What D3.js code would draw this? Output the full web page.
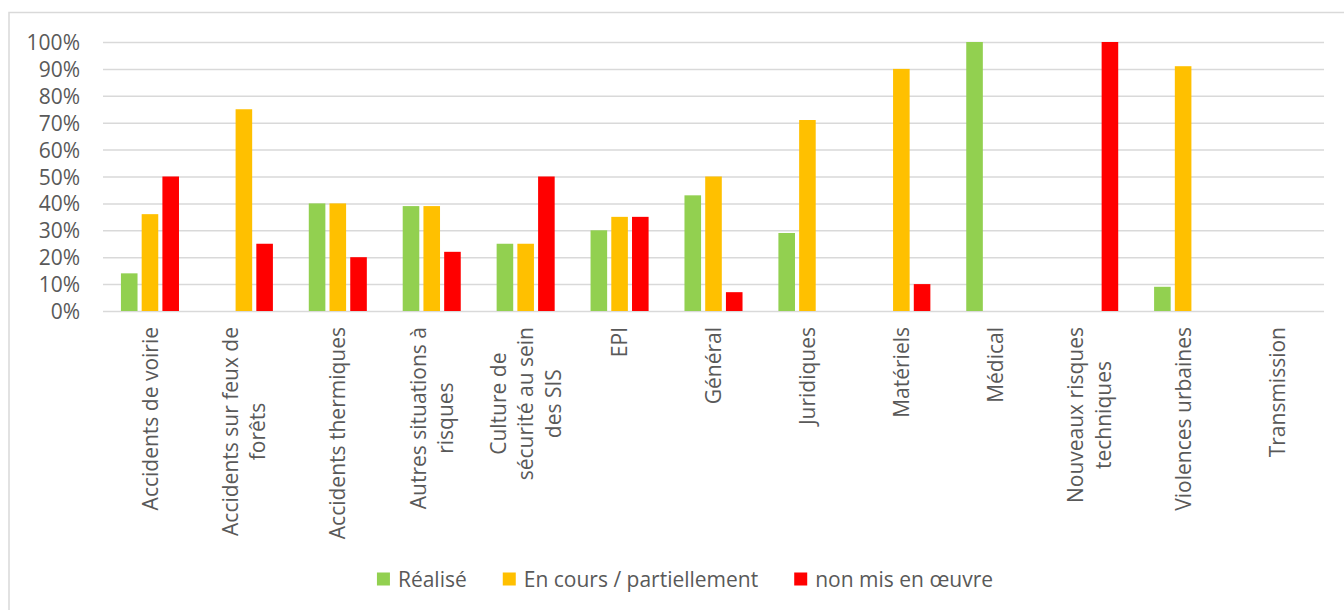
<!DOCTYPE html>
<html>
<head>
<meta charset="utf-8">
<script src="https://cdn.jsdelivr.net/npm/d3@7/dist/d3.min.js"></script>
<style>
  html, body { margin: 0; padding: 0; background: #fff; }
  svg { display: block; }
  text { font-family: "Open Sans", "Noto Sans", sans-serif; fill: #595959; }
</style>
</head>
<body>
<svg id="chart" width="1344" height="610"></svg>
<script>
const categories = [
  ["Accidents de voirie"],
  ["Accidents sur feux de", "forêts"],
  ["Accidents thermiques"],
  ["Autres situations à", "risques"],
  ["Culture de", "sécurité au sein", "des SIS"],
  ["EPI"],
  ["Général"],
  ["Juridiques"],
  ["Matériels"],
  ["Médical"],
  ["Nouveaux risques", "techniques"],
  ["Violences urbaines"],
  ["Transmission"]
];
const seriesNames = ["Réalisé", "En cours / partiellement", "non mis en œuvre"];
const seriesColors = ["#92D050", "#FFC000", "#FF0000"];
const realise   = [0.14, 0,    0.40, 0.39, 0.25, 0.30, 0.43, 0.29, 0,    1.00, 0,    0.09, 0];
const enCours   = [0.36, 0.75, 0.40, 0.39, 0.25, 0.35, 0.50, 0.71, 0.90, 0,    0,    0.91, 0];
const nonMis    = [0.50, 0.25, 0.20, 0.22, 0.50, 0.35, 0.07, 0,    0.10, 0,    1.00, 0,    0];
const yTicks = [0, 0.1, 0.2, 0.3, 0.4, 0.5, 0.6, 0.7, 0.8, 0.9, 1.0];

(function () {
const seriesValues = [realise, enCours, nonMis];
const catKeys = categories.map(c => c.join(" "));

const svg = d3.select("#chart");
const pLeft = 103, pRight = 1324, pTop = 42, pBottom = 311;
const fontSize = 21;

// outer border
svg.append("rect").attr("x", 9).attr("y", 12.5).attr("width", 1400).attr("height", 700)
  .attr("fill", "none").attr("stroke", "#d9d9d9").attr("stroke-width", 1.5);

const x0 = d3.scaleBand().domain(catKeys).range([pLeft, pRight]).paddingInner(0.382).paddingOuter(0.191);
const x1 = d3.scaleBand().domain(seriesNames).range([0, x0.bandwidth()]).paddingInner(0.2);
const y = d3.scaleLinear().domain([0, 1]).range([pBottom, pTop]);

// gridlines + y labels
const yAxis = d3.axisLeft(y).tickValues(yTicks).tickSize(0).tickPadding(0).tickFormat(d3.format(".0%"));
const gy = svg.append("g").attr("transform", `translate(${pLeft},0)`).call(yAxis);
gy.select(".domain").remove();
gy.selectAll(".tick line").remove();
gy.selectAll(".tick").append("line")
  .attr("x1", 0).attr("x2", pRight - pLeft)
  .attr("stroke", "#d9d9d9").attr("stroke-width", 1.5);
gy.selectAll(".tick text")
  .attr("x", 80 - pLeft).attr("dy", "0.36em")
  .attr("text-anchor", "end")
  .style("font-size", fontSize + "px").style("fill", "#595959")
  .style("font-family", '"Open Sans", sans-serif');

// bars
const groups = svg.append("g").selectAll("g").data(catKeys).join("g")
  .attr("transform", d => `translate(${x0(d)},0)`);
groups.selectAll("rect")
  .data((d, i) => seriesNames.map((s, j) => ({ s, j, v: seriesValues[j][i] })))
  .join("rect")
  .attr("x", d => x1(d.s))
  .attr("width", x1.bandwidth())
  .attr("y", d => y(d.v))
  .attr("height", d => pBottom - y(d.v))
  .attr("fill", d => seriesColors[d.j]);

// x labels
const lineH = 27.5;
const labelTop = 327;
categories.forEach((lines, i) => {
  const cx = x0(catKeys[i]) + x0.bandwidth() / 2;
  const n = lines.length;
  const t = svg.append("text")
    .attr("transform", `translate(${cx},${labelTop}) rotate(-90)`)
    .style("font-size", fontSize + "px");
  const spans = lines.map(ln => t.append("tspan").text(ln));
  const widths = spans.map(sp => sp.node().getComputedTextLength());
  const maxW = d3.max(widths);
  spans.forEach((sp, k) => {
    sp.attr("x", -maxW / 2).attr("text-anchor", "middle")
      .attr("y", (k - (n - 1) / 2) * lineH + fontSize * 0.36);
  });
});

// legend
const legend = svg.append("g");
const items = seriesNames.map((s, i) => {
  const g = legend.append("g");
  g.append("rect").attr("width", 13).attr("height", 13).attr("y", -6.5).attr("fill", seriesColors[i]);
  const tx = g.append("text").attr("x", 21).attr("dy", "0.36em").style("font-size", fontSize + "px").text(s);
  return { g, w: 21 + tx.node().getComputedTextLength() };
});
const gap = 36;
const totalW = d3.sum(items, d => d.w) + gap * (items.length - 1);
let lx = 685 - totalW / 2;
items.forEach(it => {
  it.g.attr("transform", `translate(${lx},579)`);
  lx += it.w + gap;
});
})();
</script>
</body>
</html>
